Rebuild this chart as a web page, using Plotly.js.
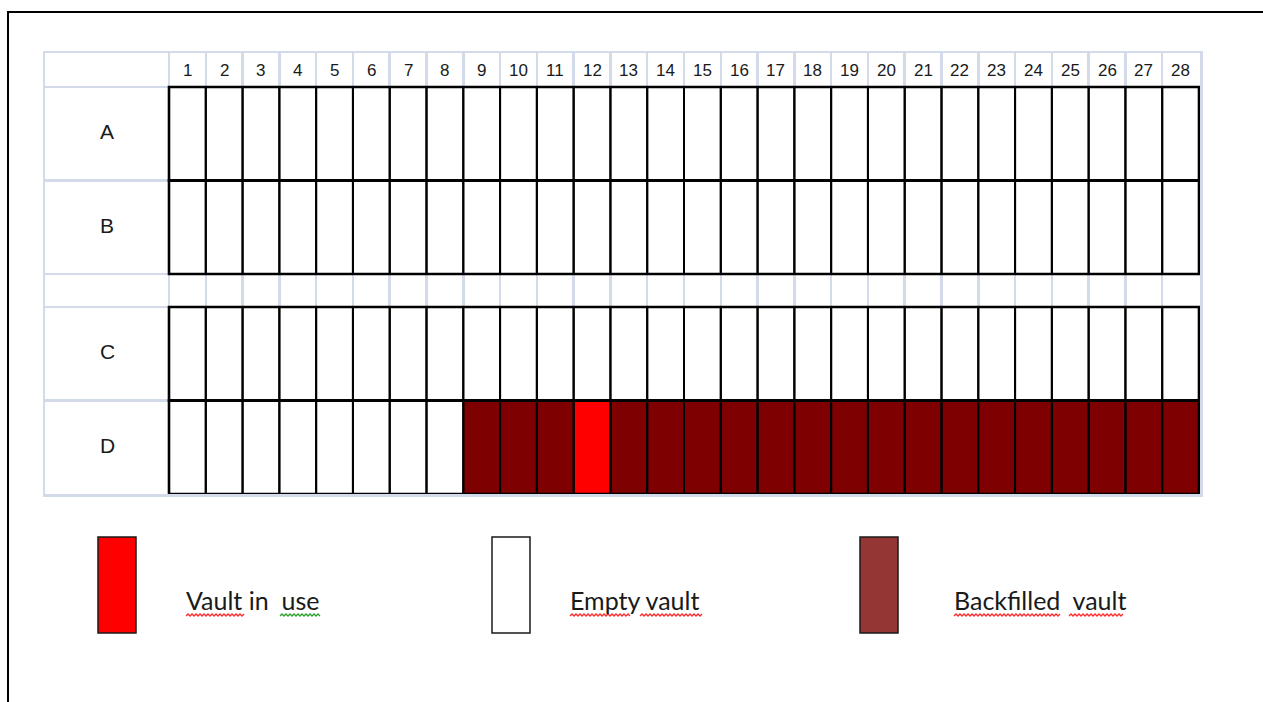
<!DOCTYPE html>
<html>
<head>
<meta charset="utf-8">
<script src="https://cdn.plot.ly/plotly-3.0.1.min.js"></script>
<style>html,body{margin:0;padding:0;background:#fff;}#chart{width:1263px;height:702px;}</style>
</head>
<body>
<div id="chart"></div>
<script>
// ---- data ----
const rowLabels = ['A', 'B', 'C', 'D'];
const colLabels = ['1','2','3','4','5','6','7','8','9','10','11','12','13','14','15','16','17','18','19','20','21','22','23','24','25','26','27','28'];
const colNums = [1,2,3,4,5,6,7,8,9,10,11,12,13,14,15,16,17,18,19,20,21,22,23,24,25,26,27,28];
// status: 0 = empty vault, 1 = vault in use, 2 = backfilled vault
const statusA = [0,0,0,0,0,0,0,0,0,0,0,0,0,0,0,0,0,0,0,0,0,0,0,0,0,0,0,0];
const statusB = [0,0,0,0,0,0,0,0,0,0,0,0,0,0,0,0,0,0,0,0,0,0,0,0,0,0,0,0];
const statusC = [0,0,0,0,0,0,0,0,0,0,0,0,0,0,0,0,0,0,0,0,0,0,0,0,0,0,0,0];
const statusD = [0,0,0,0,0,0,0,0,2,2,2,1,2,2,2,2,2,2,2,2,2,2,2,2,2,2,2,2];
const legendLabels = ['Vault in\u00a0 use', 'Empty vault', 'Backfilled\u00a0 vault'];
const legendColors = ['#ff0000', '#ffffff', '#943634'];

// ---- layout geometry ----
const GAP = 0.353, HEAD = 0.364;
const rowBottoms = {D: 0, C: 1, B: 2 + GAP, A: 3 + GAP};
const yEdges = [0, 1, 2, 2 + GAP, 3 + GAP, 4 + GAP];
const yTop = 4 + GAP + HEAD;
const xLeft = 0.5 - 124 / 36.786, xRight = 28.5 + 1 / 36.786;
const nullRow = colNums.map(() => null);

const heat = {
  type: 'heatmap',
  x: colNums,
  y: yEdges,
  z: [statusD, statusC, nullRow, statusB, statusA],
  zmin: 0, zmax: 2,
  colorscale: [[0,'#ffffff'],[0.333,'#ffffff'],[0.333,'#ff0000'],[0.667,'#ff0000'],[0.667,'#7f0000'],[1,'#7f0000']],
  showscale: false,
  hoverinfo: 'skip'
};

const shapes = [];
// black cell borders
rowLabels.forEach(r => {
  const yb = rowBottoms[r];
  colNums.forEach(c => {
    shapes.push({type:'rect', xref:'x', yref:'y', x0:c-0.5, x1:c+0.5, y0:yb, y1:yb+1,
      line:{color:'#000', width:2}, layer:'above'});
  });
  // row outline slightly heavier
  shapes.push({type:'rect', xref:'x', yref:'y', x0:0.5, x1:28.5, y0:yb, y1:yb+1,
    line:{color:'#000', width:2.6}, layer:'above'});
});

// pixel -> paper helpers for decorations
const PL = 45, PW = 1155, PB = 494, PH = 441;
const px = x => (x - PL) / PW;
const py = y => (PB - y) / PH;

// outer frame
shapes.push({type:'path', xref:'paper', yref:'paper',
  path:`M ${px(8)},${py(702)} L ${px(8)},${py(12)} L ${px(1263)},${py(12)}`,
  line:{color:'#000', width:2}});

// legend boxes
const legendX = [98, 492, 860];
const legendTextX = [184, 568, 952];
legendColors.forEach((col, i) => {
  shapes.push({type:'rect', xref:'paper', yref:'paper',
    x0:px(legendX[i]), x1:px(legendX[i]+38), y0:py(633), y1:py(537),
    fillcolor:col, line:{color:'#1a1a1a', width:1.5}});
});

// spelling squiggles under legend words
function squiggle(x0, x1, y, color) {
  let d = `M ${px(x0)},${py(y)}`;
  let up = true;
  for (let x = x0 + 2; x <= x1; x += 2) {
    d += ` L ${px(x)},${py(up ? y - 2 : y)}`;
    up = !up;
  }
  shapes.push({type:'path', xref:'paper', yref:'paper', path:d, line:{color:color, width:1.3}});
}
squiggle(186, 245, 616, '#ff2a2a');
squiggle(280, 320, 616, '#2aa02a');
squiggle(570, 630, 616, '#ff2a2a');
squiggle(640, 703, 616, '#ff2a2a');
squiggle(954, 1060, 616, '#ff2a2a');
squiggle(1069, 1124, 616, '#ff2a2a');

const annotations = [];
colLabels.forEach((t, i) => {
  annotations.push({xref:'x', yref:'y', x:colNums[i], y:4 + GAP + HEAD/2, text:t, showarrow:false,
    font:{family:'Liberation Sans, Arial, sans-serif', size:17, color:'#1a1a1a'}});
});
rowLabels.forEach(r => {
  annotations.push({xref:'x', yref:'y', x:(xLeft + 0.5)/2, y:rowBottoms[r] + 0.52, text:r, showarrow:false,
    font:{family:'Liberation Sans, Arial, sans-serif', size:21, color:'#1a1a1a'}});
});
legendLabels.forEach((t, i) => {
  annotations.push({xref:'paper', yref:'paper', x:px(legendTextX[i]), y:py(600), xanchor:'left', yanchor:'middle',
    text:t, showarrow:false, font:{family:'Lato, Open Sans, sans-serif', size:25, color:'#1a1a1a'}});
});

const gridColor = '#d3dbea';
const layout = {
  width:1263, height:702,
  margin:{l:PL, r:1263 - PL - PW, t:53, b:702 - PB},
  paper_bgcolor:'#fff', plot_bgcolor:'#fff',
  showlegend:false,
  xaxis:{range:[xLeft, xRight], tickvals:colNums.map(c => c + 0.5).slice(0, 27).concat([0.5]),
    showticklabels:false, ticks:'', showgrid:true, gridcolor:gridColor, gridwidth:2.5,
    zeroline:false, showline:true, mirror:true, linecolor:gridColor, linewidth:2.5, fixedrange:true},
  yaxis:{range:[0, yTop], tickvals:yEdges.slice(1),
    showticklabels:false, ticks:'', showgrid:true, gridcolor:gridColor, gridwidth:2.5,
    zeroline:false, showline:true, mirror:true, linecolor:gridColor, linewidth:2.5, fixedrange:true},
  shapes:shapes,
  annotations:annotations
};

Plotly.newPlot('chart', [heat], layout, {displayModeBar:false, staticPlot:true});
</script>
</body>
</html>
